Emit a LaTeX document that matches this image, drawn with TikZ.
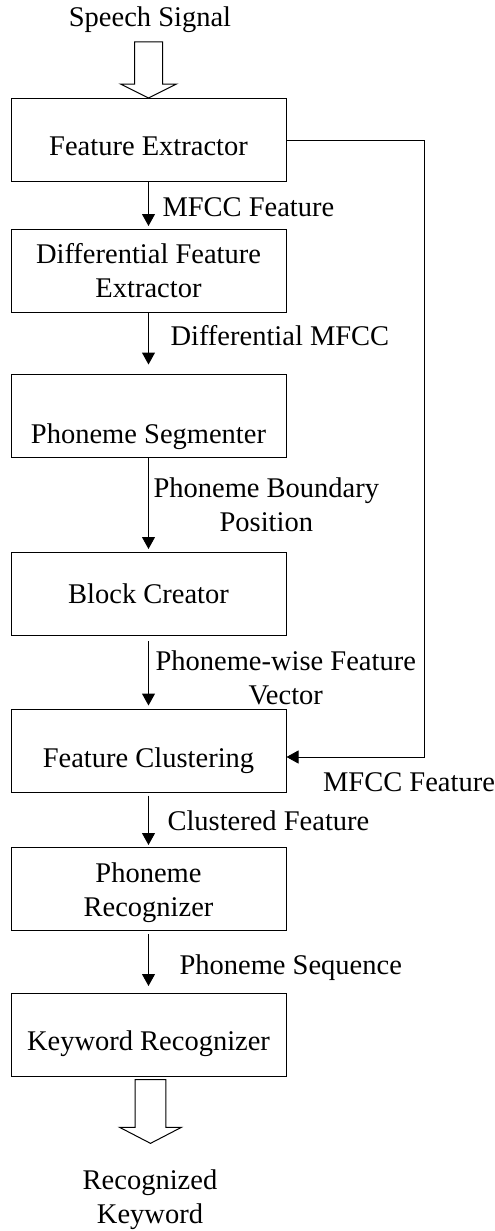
\documentclass[tikz,border=0pt]{standalone}
\usepackage{fontspec}
\setmainfont{Liberation Serif}
\usetikzlibrary{
    arrows.meta,
    calc
}
\tikzset{
    % Blocks
    block/.style={draw,line width=1pt,minimum width=275pt,minimum height=83pt,inner sep=0pt,align=center},
    lowered/.style={text height=#1,text depth=0pt},
    %
    % Arrows
    arrow tip/.tip={Triangle[width=13pt,length=12pt]},
    arr/.style={->,>={arrow tip},line width=1pt},
    flow label/.style={anchor=base west,inner sep=0pt,align=center},
    plain label/.style={anchor=base,inner sep=0pt,align=center},
    %
    % Hollow input/output arrow
    hollow arrow/.pic={
        \draw[line width=1pt,fill=white] (-14,0) -- (-14,42) -- (-28,42) -- (0,56)
            -- (28,42) -- (14,42) -- (14,0) -- cycle;
    }
}

\begin{document}
\begin{tikzpicture}[x=1pt,y=-1pt,font=\fontsize{28.5}{34}\selectfont]
    \useasboundingbox (0,0) rectangle (495,1231);
    % blocks
    \node[block,lowered=30pt] (fe) at (148.5,140) {Feature Extractor};
    \node[block] (dfe) at (148.5,271) {Differential Feature\\Extractor};
    \node[block,lowered=55.6pt] (ps) at (148.5,415.5) {Phoneme Segmenter};
    \node[block] (bc) at (148.5,594) {Block Creator};
    \node[block,lowered=34.4pt] (fc) at (148.5,750.5) {Feature Clustering};
    \node[block,text height=61.6pt] (pr) at (148.5,889) {Phoneme\\Recognizer};
    \node[block,lowered=31.4pt] (kr) at (148.5,1035) {Keyword Recognizer};
    % input and output
    \node[plain label] (speech) at (150,27) {Speech Signal};
    \pic at ($(fe.north)+(0,-56)$) {hollow arrow};
    \pic[xscale=1.1,yscale=1.14] at ($(kr.south)+(2,2.5)$) {hollow arrow};
    \node[plain label] (keyword) at (150,1223) {Recognized\\Keyword};
    % main flow
    \draw[arr,shorten >=3pt] (fe.south) -- (dfe.north)
        node[flow label,pos=.74,xshift=13.5pt] {MFCC Feature};
    \draw[arr,shorten >=9pt] (dfe.south) -- (ps.north)
        node[flow label,pos=.54,xshift=21.5pt] {Differential MFCC};
    \draw[arr,shorten >=3pt] (ps.south) -- (bc.north)
        node[flow label,pos=.78,xshift=4.5pt] {Phoneme Boundary\\Position};
    \draw[arr,shorten <=5pt,shorten >=3pt] (bc.south) -- (fc.north)
        node[flow label,pos=.95,xshift=6.5pt] {Phoneme-wise Feature\\Vector};
    \draw[arr,shorten <=3pt,shorten >=2pt] (fc.south) -- (pr.north)
        node[flow label,pos=.69,xshift=18.5pt] {Clustered Feature};
    \draw[arr,shorten <=3pt,shorten >=7pt] (pr.south) -- (kr.north)
        node[flow label,pos=.7,xshift=30.5pt] {Phoneme Sequence};
    % feedback of the MFCC features
    \coordinate (fbcorner) at (424,757);
    \draw[arr] (fe.east) -| (fbcorner) -- (fbcorner -| fc.east);
    \node[plain label] (fbnote) at ($(fbcorner)+(-15,34.7)$) {MFCC Feature};
\end{tikzpicture}
\end{document}
